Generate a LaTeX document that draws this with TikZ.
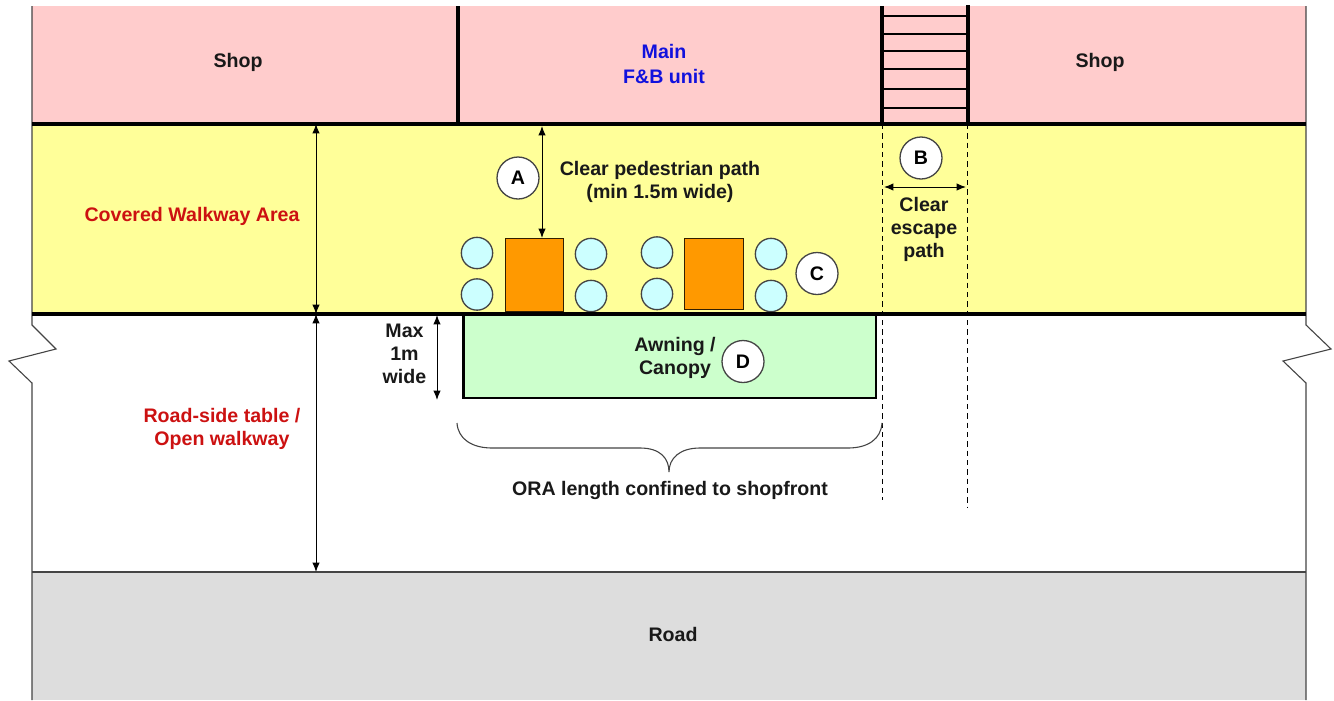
\documentclass[tikz,border=0pt]{standalone}
\usepackage{fontspec}
\setmainfont{Liberation Sans}
\usetikzlibrary{arrows.meta}
\definecolor{pinkz}{HTML}{FFCCCC}
\definecolor{yellowz}{HTML}{FFFF99}
\definecolor{greenz}{HTML}{CCFFCC}
\definecolor{grayz}{HTML}{DDDDDD}
\definecolor{cyanz}{HTML}{CCFFFF}
\definecolor{orangez}{HTML}{FF9900}
\definecolor{redz}{HTML}{CC1111}
\definecolor{bluez}{HTML}{1111DD}
\definecolor{edgez}{HTML}{444444}
\tikzset{
  x=0.75pt,y=-0.75pt,
  px/.style={line width=#1*0.75pt},
  label/.style={font=\bfseries\fontsize{14.7}{17.3}\selectfont,align=center,inner sep=0pt,text=black!90},
  redlabel/.style={label,text=redz},
  seat/.style={circle,draw=edgez,px=1.3,fill=cyanz,minimum size=23.5pt,inner sep=0pt},
  tablebox/.style={draw=black!80!orangez,px=1.4,fill=orangez,anchor=north west,inner sep=0pt},
  tag/.style={circle,draw=edgez,px=1.3,fill=white,minimum size=31.5pt,inner sep=0pt,font=\bfseries\fontsize{14.7}{16}\selectfont},
  wall/.style={px=#1,black},
  dim/.style={px=1,black,{Latex[length=7pt,width=5.5pt]}-{Latex[length=7pt,width=5.5pt]}},
  dashline/.style={px=1,black,dash pattern=on 4pt off 3pt},
  thinedge/.style={px=1.1,edgez}
}
\begin{document}
\begin{tikzpicture}
\useasboundingbox (0,0) rectangle (1334,700);
% zones
\fill[pinkz] (32,6) rectangle (1306,124);
\fill[yellowz] (32,124) rectangle (1306,314);
\fill[grayz] (32,572) rectangle (1306,700);
% named points
\coordinate (tl) at (32,6);
\coordinate (tr) at (1306,6);
\coordinate (wl) at (32,124);
\coordinate (wr) at (1306,124);
\coordinate (ml) at (32,314);
\coordinate (mr) at (1306,314);
\coordinate (rl) at (32,572);
\coordinate (rr) at (1306,572);
\coordinate (bl) at (32,700);
\coordinate (br) at (1306,700);
% outer outline
\draw[thinedge] (tl) -- (wl) -- (ml) -- (32,325) -- (56,349) -- (9,361) -- (32,383) -- (rl) -- (bl);
\draw[thinedge] (tr) -- (wr) -- (mr) -- (1306,325) -- (1331,349) -- (1283,361) -- (1306,383) -- (rr) -- (br);
\draw[thinedge] (rl) -- (rr);
% green awning
\draw[px=2.2,black,fill=greenz] (463.5,314) rectangle (876,398);
% dashed escape path
\coordinate (d1a) at (882,124);
\coordinate (d1b) at (882,500);
\coordinate (d2a) at (967,124);
\coordinate (d2b) at (967,507);
\draw[dashline] (d1a) -- (d1b);
\draw[dashline] (d2a) -- (d2b);
% stair
\coordinate (s1a) at (882,6);
\coordinate (s2a) at (968,5);
\coordinate (w1a) at (458,6);
\coordinate (w1b) at (458,124);
\foreach \ya in {16,34,51,69,89,108}{
  \draw[wall=2.8] (882,\ya) -- (968,\ya);
}
\draw[wall=4.4] (s1a) -- (882,124);
\draw[wall=3.2] (s2a) -- (968,124);
\draw[wall=3.2] (w1a) -- (w1b);
% tables
\node[tablebox,minimum width=43.5pt,minimum height=54.75pt] (t1) at (505,238) {};
\node[tablebox,minimum width=44.25pt,minimum height=53.25pt] (t2) at (684,238) {};
\node[seat] (c1) at (477,253) {};
\node[seat] (c2) at (477,294.5) {};
\node[seat] (c3) at (591,254) {};
\node[seat] (c4) at (591,296) {};
\node[seat] (c5) at (657,252.5) {};
\node[seat] (c6) at (657,294) {};
\node[seat] (c7) at (771,254) {};
\node[seat] (c8) at (771,296) {};
% heavy walls
\draw[wall=4] (wl) -- (wr);
\draw[wall=4.5] (ml) -- (mr);
% dimension arrows
\coordinate (a1) at (316,124);
\coordinate (a2) at (316,314);
\coordinate (a3) at (316,572);
\coordinate (a4) at (542,126);
\coordinate (a5) at (437,315);
\coordinate (a6) at (437,400);
\coordinate (a7) at (884,187);
\coordinate (a8) at (966,187);
\draw[dim] (a1) -- (a2);
\draw[dim] (a2) -- (a3);
\draw[dim] (a4) -- (t1.north west -| a4);
\draw[dim] (a5) -- (a6);
\draw[dim] (a7) -- (a8);
% brace
\coordinate (b1) at (457,423);
\coordinate (b2) at (882,423);
\coordinate (b3) at (669,472);
\draw[thinedge] (b1) .. controls (458,439) and (472,448) .. (492,448) -- (640,448) .. controls (660,448) and (669,458) .. (b3) .. controls (669,458) and (680,448) .. (700,448) -- (848,448) .. controls (868,448) and (881,439) .. (b2);
% tags
\node[tag] (A) at (518,178) {A};
\node[tag] (B) at (921,158) {B};
\node[tag] (C) at (817,273.5) {C};
\node[tag] (D) at (743,361.5) {D};
% labels
\node[label] (shop1) at (238,62) {Shop};
\node[label] (shop2) at (1100,62) {Shop};
\node[label,text=bluez,font=\bfseries\fontsize{14.7}{18.6}\selectfont] (main) at (664,64) {Main\\F\&B unit};
\node[redlabel] (cov) at (192,216) {Covered Walkway Area};
\node[redlabel] (rs) at (222,428.5) {Road-side table /\\Open walkway};
\node[label] (clear) at (660,181.5) {Clear pedestrian path\\(min 1.5m wide)};
\node[label] (esc) at (924,229) {Clear\\escape\\path};
\node[label] (max) at (404.5,354) {Max\\1m\\wide};
\node[label] (awn) at (675,357.5) {Awning /\\Canopy};
\node[label] (ora) at (670,490) {ORA length confined to shopfront};
\node[label] (road) at (673,634) {Road};
\end{tikzpicture}
\end{document}
